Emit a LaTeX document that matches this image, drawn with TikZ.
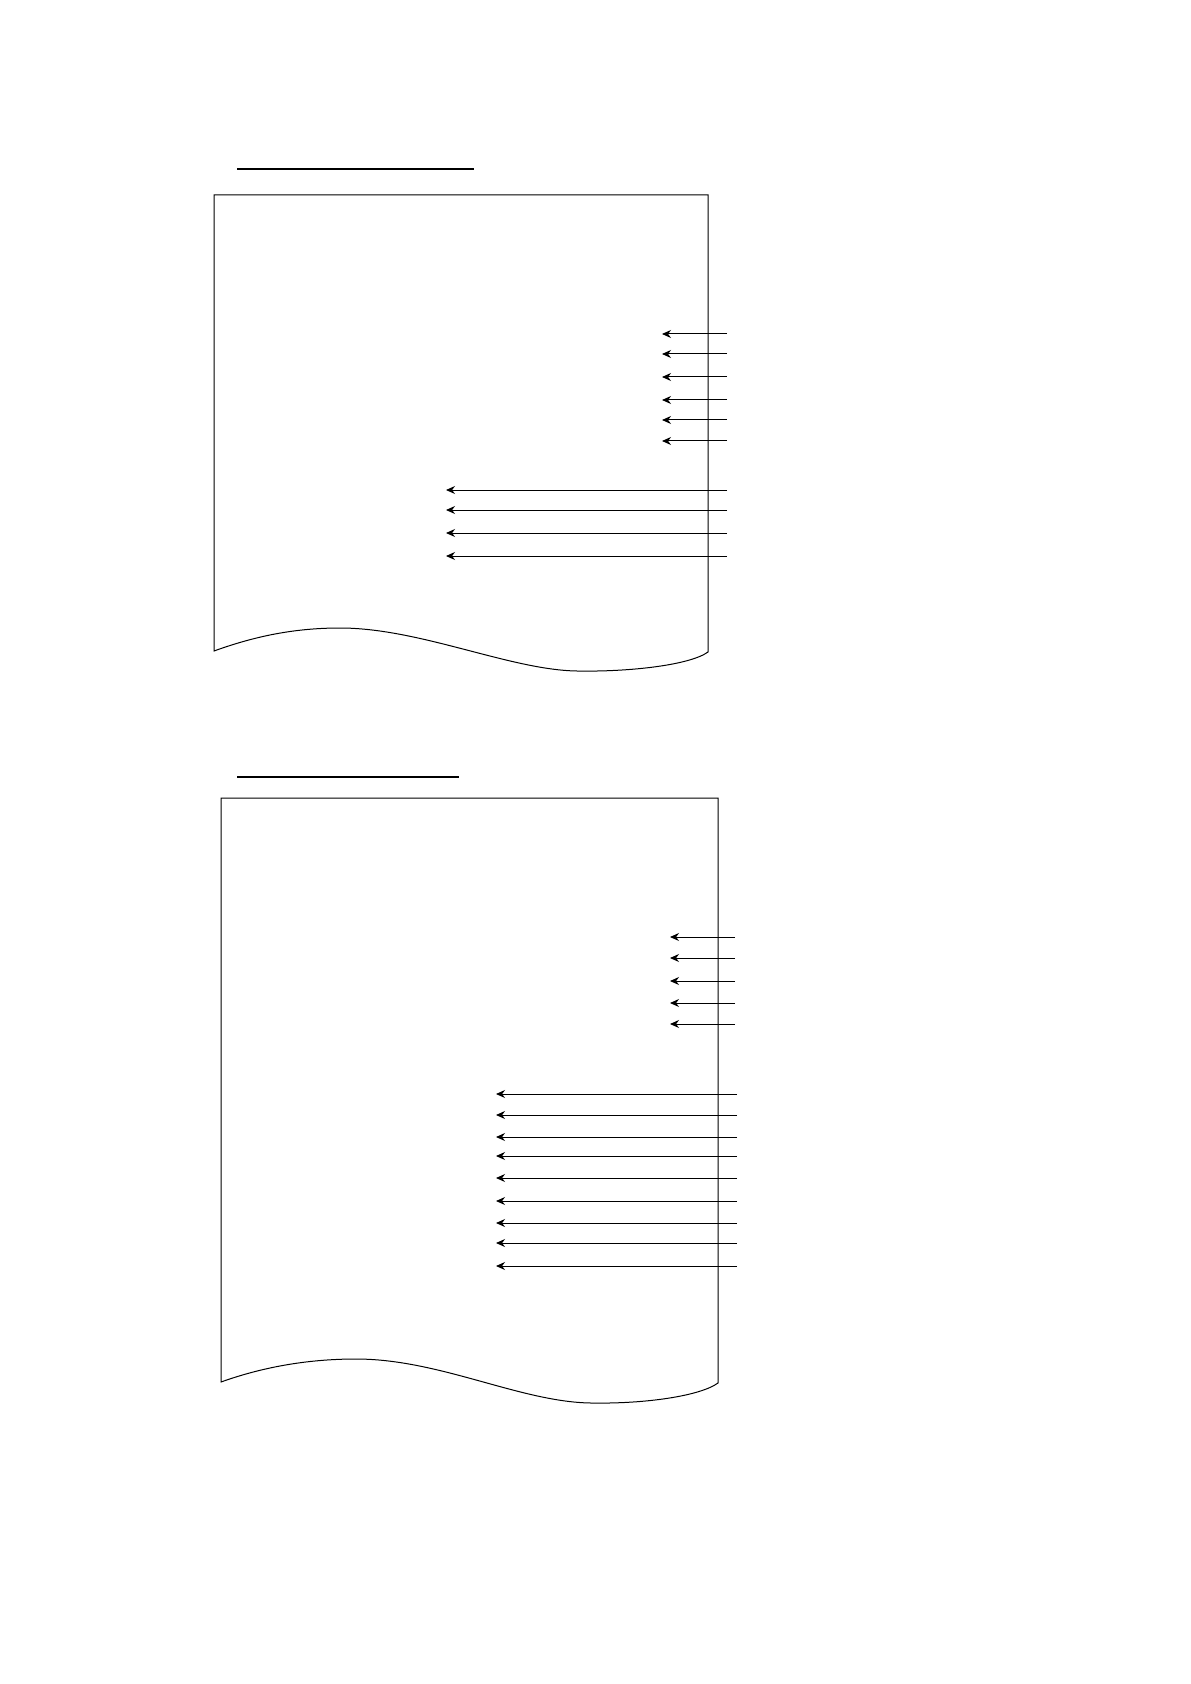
\documentclass[tikz,border=0pt]{standalone}
\usetikzlibrary{arrows.meta}

\tikzset{
    feed/.style={-{Stealth[length=4.5pt,width=4pt]},line width=0.5pt},
    sheet/.style={line width=0.5pt,draw=black},
    rule/.style={line width=1pt}
}

\begin{document}
\begin{tikzpicture}[x=0.5pt,y=-0.5pt]
        \useasboundingbox (0,0) rectangle (1190,1684);
        % upper sheet
        \coordinate (ruleA1) at (237,169);
        \coordinate (ruleA2) at (474,169);
        \draw[rule] (ruleA1) -- (ruleA2);
        \draw[sheet] (214,651) -- (214,195) -- (708,195) -- (708,652)
            .. controls (690,665) and (630,672) .. (577,671)
            .. controls (510,670) and (420,628) .. (340,628)
            .. controls (290,628) and (250,638) .. (214,651) -- cycle;
        \foreach \y in {334,354,377,400,420,441} {
            \coordinate (inA\y) at (727,\y);
            \coordinate (outA\y) at (662,\y);
            \draw[feed] (inA\y) -- (outA\y);
        }
        \foreach \y in {490,510,533,556} {
            \coordinate (inA\y) at (727,\y);
            \coordinate (outA\y) at (446,\y);
            \draw[feed] (inA\y) -- (outA\y);
        }
        % lower sheet
        \coordinate (ruleB1) at (237,777);
        \coordinate (ruleB2) at (459,777);
        \draw[rule] (ruleB1) -- (ruleB2);
        \draw[sheet] (221,1382) -- (221,798) -- (718,798) -- (718,1383)
            .. controls (700,1396) and (645,1404) .. (591,1403)
            .. controls (520,1402) and (440,1359) .. (356,1359)
            .. controls (305,1359) and (260,1368) .. (221,1382) -- cycle;
        \foreach \y in {937,958,981,1003,1024} {
            \coordinate (inB\y) at (735,\y);
            \coordinate (outB\y) at (670,\y);
            \draw[feed] (inB\y) -- (outB\y);
        }
        \foreach \y in {1094,1115,1137,1156,1178,1201,1223,1243,1266} {
            \coordinate (inB\y) at (737,\y);
            \coordinate (outB\y) at (496,\y);
            \draw[feed] (inB\y) -- (outB\y);
        }
    \end{tikzpicture}
\end{document}
